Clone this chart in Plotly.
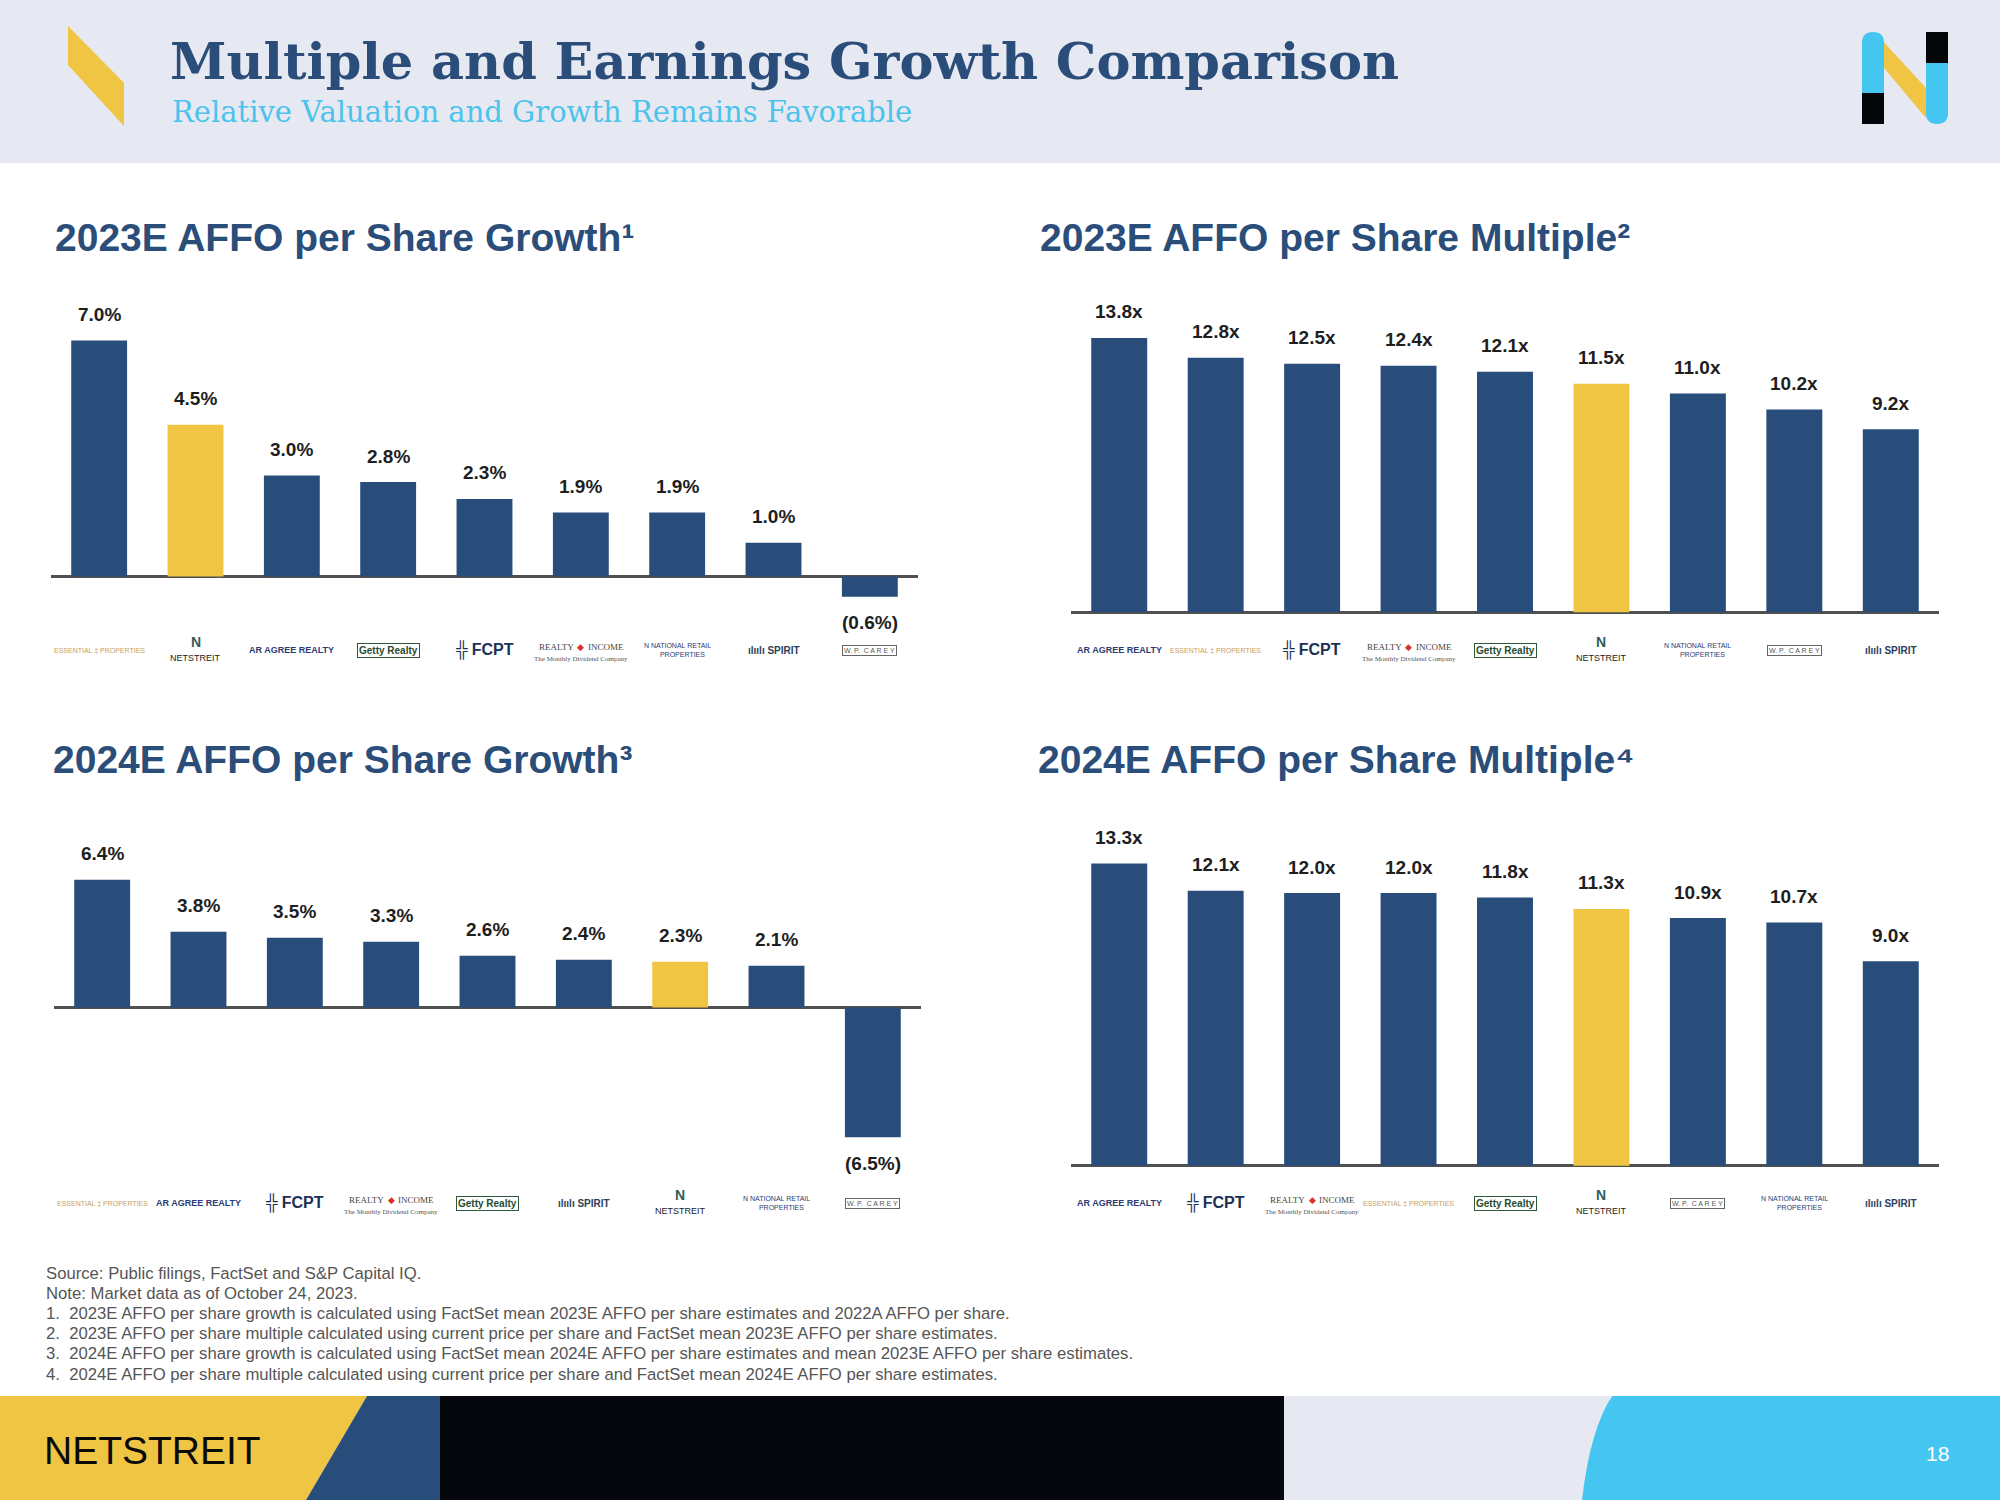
import plotly.graph_objects as go

W, H = 2000, 1500
NAVY = "#284d7a"
YELLOW = "#f0c543"
CYAN = "#45c6f0"
HEADER_BG = "#e6e9f1"
LABEL_COLOR = "#1e1e1e"

# ---------------- data ----------------
growth23_companies = ["Essential Properties", "NETSTREIT", "Agree Realty", "Getty Realty", "FCPT",
                      "Realty Income", "NNN", "Spirit Realty", "W. P. Carey"]
growth23_values = [7.0, 4.5, 3.0, 2.8, 2.3, 1.9, 1.9, 1.0, -0.6]

multiple23_companies = ["Agree Realty", "Essential Properties", "FCPT", "Realty Income", "Getty Realty",
                        "NETSTREIT", "NNN", "W. P. Carey", "Spirit Realty"]
multiple23_values = [13.8, 12.8, 12.5, 12.4, 12.1, 11.5, 11.0, 10.2, 9.2]

growth24_companies = ["Essential Properties", "Agree Realty", "FCPT", "Realty Income", "Getty Realty",
                      "Spirit Realty", "NETSTREIT", "NNN", "W. P. Carey"]
growth24_values = [6.4, 3.8, 3.5, 3.3, 2.6, 2.4, 2.3, 2.1, -6.5]

multiple24_companies = ["Agree Realty", "FCPT", "Realty Income", "Essential Properties", "Getty Realty",
                        "NETSTREIT", "W. P. Carey", "NNN", "Spirit Realty"]
multiple24_values = [13.3, 12.1, 12.0, 12.0, 11.8, 11.3, 10.9, 10.7, 9.0]

chart_titles = ["2023E AFFO per Share Growth¹", "2023E AFFO per Share Multiple²",
                "2024E AFFO per Share Growth³", "2024E AFFO per Share Multiple⁴"]

footnotes = [
    "Source: Public filings, FactSet and S&P Capital IQ.",
    "Note: Market data as of October 24, 2023.",
    "1.  2023E AFFO per share growth is calculated using FactSet mean 2023E AFFO per share estimates and 2022A AFFO per share.",
    "2.  2023E AFFO per share multiple calculated using current price per share and FactSet mean 2023E AFFO per share estimates.",
    "3.  2024E AFFO per share growth is calculated using FactSet mean 2024E AFFO per share estimates and mean 2023E AFFO per share estimates.",
    "4.  2024E AFFO per share multiple calculated using current price per share and FactSet mean 2024E AFFO per share estimates.",
]


def px(x):
    return x / W


def py(y):
    return 1 - y / H


def fmt_growth(v):
    return f"{v:.1f}%" if v >= 0 else f"({abs(v):.1f}%)"


def fmt_mult(v):
    return f"{v:.1f}x"


# (companies, values, formatter, axis suffix, x pixel domain, y pixel domain, y range, title, title pos, logo row y)
panels = [
    (growth23_companies, growth23_values, fmt_growth, "", (51, 918), (300, 700), (-3.66, 8.20),
     chart_titles[0], (53, 237), 650),
    (multiple23_companies, multiple23_values, fmt_mult, "2", (1071, 1939), (300, 700), (-4.42, 15.71),
     chart_titles[1], (1038, 237), 650),
    (growth24_companies, growth24_values, fmt_growth, "3", (54, 921), (820, 1230), (-11.15, 9.40),
     chart_titles[2], (51, 759), 1203),
    (multiple24_companies, multiple24_values, fmt_mult, "4", (1071, 1939), (820, 1230), (-2.82, 15.21),
     chart_titles[3], (1036, 759), 1203),
]

fig = go.Figure()
annotations = []
shapes = []
layout_axes = {}


def logo(company, xref, x, yc):
    """Text annotations approximating each company's logo."""
    base = dict(xref=xref, yref="paper", x=x, showarrow=False, xanchor="center", yanchor="middle")
    out = []
    if company == "Essential Properties":
        out.append(dict(base, y=py(yc), text="ESSENTIAL ‡ PROPERTIES",
                        font=dict(family="Liberation Sans", size=7, color="#c9a05c")))
    elif company == "NETSTREIT":
        out.append(dict(base, y=py(yc - 8), text="N",
                        font=dict(family="Liberation Sans", size=14, color="#2f5d5a", weight="bold")))
        out.append(dict(base, y=py(yc + 8), text="NETSTREIT",
                        font=dict(family="Liberation Sans", size=9, color="#222222")))
    elif company == "Agree Realty":
        out.append(dict(base, y=py(yc), text="AR AGREE REALTY",
                        font=dict(family="Liberation Sans", size=9, color="#2b3b75", weight="bold")))
    elif company == "Getty Realty":
        out.append(dict(base, y=py(yc), text="Getty Realty", bordercolor="#2d5a3a", borderwidth=1,
                        borderpad=1, font=dict(family="Liberation Sans", size=10, color="#1f4d2e", weight="bold")))
    elif company == "FCPT":
        out.append(dict(base, y=py(yc), text="╬ FCPT",
                        font=dict(family="Liberation Sans", size=16, color="#1b3155", weight="bold")))
    elif company == "Realty Income":
        out.append(dict(base, y=py(yc - 3), text="REALTY", xanchor="right", xshift=-5,
                        font=dict(family="Liberation Serif", size=9, color="#444444")))
        out.append(dict(base, y=py(yc - 3), text="◆",
                        font=dict(family="Liberation Serif", size=9, color="#d9342b")))
        out.append(dict(base, y=py(yc - 3), text="INCOME", xanchor="left", xshift=5,
                        font=dict(family="Liberation Serif", size=9, color="#444444")))
        out.append(dict(base, y=py(yc + 9), text="The Monthly Dividend Company",
                        font=dict(family="Liberation Serif", size=7, color="#555555")))
    elif company == "NNN":
        out.append(dict(base, y=py(yc), text="N NATIONAL RETAIL<br>     PROPERTIES",
                        font=dict(family="Liberation Sans", size=7, color="#2b3b75")))
    elif company == "Spirit Realty":
        out.append(dict(base, y=py(yc), text="ılıılı SPIRIT",
                        font=dict(family="Liberation Sans", size=10, color="#2c3e5a", weight="bold")))
    elif company == "W. P. Carey":
        out.append(dict(base, y=py(yc), text="W. P.  C A R E Y", bordercolor="#666666", borderwidth=1,
                        borderpad=1, font=dict(family="Liberation Sans", size=7, color="#555555")))
    return out


for companies, values, fmt, ax, (x0, x1), (y0, y1), yrange, title, (tx, ty), logo_y in panels:
    colors = [YELLOW if c == "NETSTREIT" else NAVY for c in companies]
    fig.add_trace(go.Bar(
        x=companies, y=values, marker=dict(color=colors, line=dict(width=0)),
        width=0.58, xaxis="x" + ax, yaxis="y" + ax, showlegend=False, hoverinfo="x+y",
    ))
    layout_axes["xaxis" + ax] = dict(domain=[px(x0), px(x1)], anchor="y" + ax, showticklabels=False,
                                     showgrid=False, zeroline=False, showline=False, ticks="",
                                     categoryorder="array", categoryarray=companies, fixedrange=True)
    layout_axes["yaxis" + ax] = dict(domain=[py(y1), py(y0)], anchor="x" + ax, range=list(yrange),
                                     showticklabels=False, showgrid=False, zeroline=True,
                                     zerolinecolor="#505050", zerolinewidth=3, showline=False, ticks="",
                                     fixedrange=True)
    for c, v in zip(companies, values):
        annotations.append(dict(
            xref="x" + ax, yref="y" + ax, x=c, y=v, text=fmt(v), showarrow=False,
            xanchor="center", yanchor="middle", yshift=26 if v >= 0 else -26,
            font=dict(family="Liberation Sans", size=19, color=LABEL_COLOR, weight="bold"),
        ))
        annotations.extend(logo(c, "x" + ax, c, logo_y))
    annotations.append(dict(
        xref="paper", yref="paper", x=px(tx), y=py(ty), xanchor="left", yanchor="middle",
        text=title, showarrow=False,
        font=dict(family="Liberation Sans", size=39, color="#2a4d7a", weight="bold"),
    ))

# ---------------- header ----------------
shapes.append(dict(type="rect", xref="paper", yref="paper", x0=0, x1=1, y0=py(163), y1=1,
                   fillcolor=HEADER_BG, line=dict(width=0), layer="below"))


def path(points):
    return "M " + " L ".join(f"{px(a):.5f},{py(b):.5f}" for a, b in points) + " Z"


shapes.append(dict(type="path", xref="paper", yref="paper",
                   path=path([(68, 26), (124, 83), (124, 126), (68, 65)]),
                   fillcolor=YELLOW, line=dict(width=0)))
shapes.append(dict(type="path", xref="paper", yref="paper",
                   path=path([(1880, 38), (1926, 88), (1926, 118), (1884, 68)]),
                   fillcolor=YELLOW, line=dict(width=0)))
shapes.append(dict(type="path", xref="paper", yref="paper",
                   path=(f"M {px(1862)},{py(93)} L {px(1862)},{py(43)} Q {px(1862)},{py(32)} {px(1873)},{py(32)} "
                         f"Q {px(1884)},{py(32)} {px(1884)},{py(43)} L {px(1884)},{py(93)} Z"),
                   fillcolor=CYAN, line=dict(width=0)))
shapes.append(dict(type="rect", xref="paper", yref="paper", x0=px(1862), x1=px(1884), y0=py(124), y1=py(93),
                   fillcolor="#05060a", line=dict(width=0)))
shapes.append(dict(type="rect", xref="paper", yref="paper", x0=px(1926), x1=px(1948), y0=py(63), y1=py(32),
                   fillcolor="#05060a", line=dict(width=0)))
shapes.append(dict(type="path", xref="paper", yref="paper",
                   path=(f"M {px(1926)},{py(63)} L {px(1948)},{py(63)} L {px(1948)},{py(113)} "
                         f"Q {px(1948)},{py(124)} {px(1937)},{py(124)} Q {px(1926)},{py(124)} {px(1926)},{py(113)} Z"),
                   fillcolor=CYAN, line=dict(width=0)))

annotations.append(dict(xref="paper", yref="paper", x=px(168), y=py(61), xanchor="left", yanchor="middle",
                        text="Multiple and Earnings Growth Comparison", showarrow=False,
                        font=dict(family="DejaVu Serif", size=51, color="#2a4d7a", weight="bold")))
annotations.append(dict(xref="paper", yref="paper", x=px(170), y=py(112), xanchor="left", yanchor="middle",
                        text="Relative Valuation and Growth Remains Favorable", showarrow=False,
                        font=dict(family="DejaVu Serif", size=29, color="#4cc3ec")))

# ---------------- footnotes ----------------
for i, line in enumerate(footnotes):
    annotations.append(dict(xref="paper", yref="paper", x=px(44), y=py(1273 + i * 20.2),
                            xanchor="left", yanchor="middle", text=line, showarrow=False,
                            font=dict(family="Liberation Sans", size=16.7, color="#555555")))

# ---------------- footer ----------------
shapes.append(dict(type="path", xref="paper", yref="paper",
                   path=path([(0, 1396), (367, 1396), (306, 1500), (0, 1500)]),
                   fillcolor=YELLOW, line=dict(width=0)))
shapes.append(dict(type="path", xref="paper", yref="paper",
                   path=path([(367, 1396), (440, 1396), (440, 1500), (306, 1500)]),
                   fillcolor=NAVY, line=dict(width=0)))
shapes.append(dict(type="rect", xref="paper", yref="paper", x0=px(440), x1=px(1284), y0=0, y1=py(1396),
                   fillcolor="#06070c", line=dict(width=0)))
shapes.append(dict(type="rect", xref="paper", yref="paper", x0=px(1284), x1=px(1610), y0=0, y1=py(1396),
                   fillcolor=HEADER_BG, line=dict(width=0)))
shapes.append(dict(type="path", xref="paper", yref="paper",
                   path=(f"M {px(1612)},{py(1396)} L 1,{py(1396)} L 1,0 L {px(1582)},0 "
                         f"Q {px(1590)},{py(1430)} {px(1612)},{py(1396)} Z"),
                   fillcolor=CYAN, line=dict(width=0)))

annotations.append(dict(xref="paper", yref="paper", x=px(42), y=py(1450), xanchor="left", yanchor="middle",
                        text="NETSTREIT", showarrow=False,
                        font=dict(family="Liberation Sans", size=39, color="#0a0a0a")))
annotations.append(dict(xref="paper", yref="paper", x=px(1937), y=py(1453), xanchor="center", yanchor="middle",
                        text="18", showarrow=False,
                        font=dict(family="Liberation Sans", size=21, color="#ffffff")))

fig.update_layout(
    width=W, height=H, autosize=False,
    margin=dict(l=0, r=0, t=0, b=0, pad=0),
    paper_bgcolor="#ffffff", plot_bgcolor="rgba(0,0,0,0)",
    annotations=annotations, shapes=shapes,
    showlegend=False, bargap=0.42,
    **layout_axes,
)

fig.write_html("out.html", config={"displayModeBar": False},
               post_script="document.body.style.margin='0';document.body.style.overflow='hidden';")
